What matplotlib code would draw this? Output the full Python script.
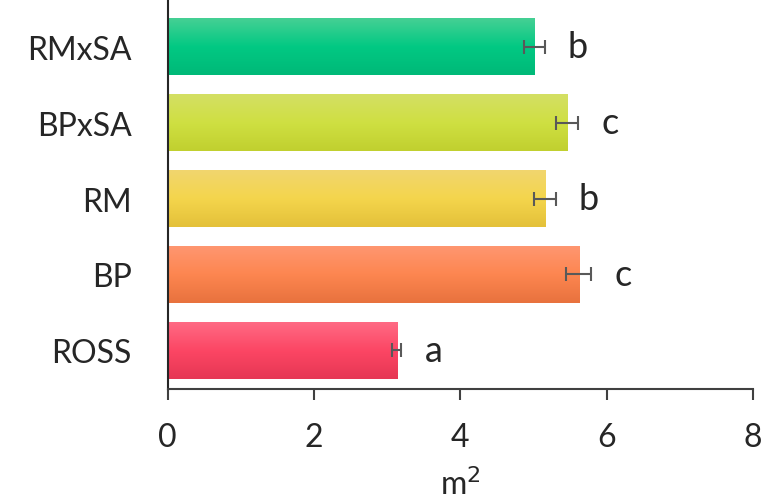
import matplotlib
matplotlib.use('Agg')
import matplotlib.pyplot as plt
from matplotlib.colors import LinearSegmentedColormap
import numpy as np

plt.rcParams['font.family'] = ['Lato', 'DejaVu Sans']

# area per group (m2), standard error and significance letters
groups = ['ROSS', 'BP', 'RM', 'BPxSA', 'RMxSA']
means = [3.13, 5.62, 5.16, 5.46, 5.01]
errors = [0.06, 0.17, 0.15, 0.15, 0.145]
letters = ['a', 'c', 'b', 'c', 'b']

# top / middle / bottom shades of each bar's gradient
shades = [
    ['#ff6a84', '#fc4664', '#e63754'],
    ['#ff9670', '#fd8650', '#e8723e'],
    ['#f1d66e', '#f4d54c', '#e4c13a'],
    ['#d4df64', '#cfe042', '#c1d02f'],
    ['#45d094', '#02c983', '#00b978'],
]

fig = plt.figure(figsize=(7.79, 5.02), dpi=100)
ax = fig.add_axes((0.2153, 0.223, 0.7514, 0.777))

y = np.arange(len(groups))
height = 0.75
bars = ax.barh(y, means, height=height, color='none', edgecolor='none')

grad = np.linspace(1, 0, 64).reshape(-1, 1)
for bar, cols in zip(bars, shades):
    cmap = LinearSegmentedColormap.from_list('g', [cols[2], cols[1], cols[0]])
    x0, y0 = bar.get_x(), bar.get_y()
    w, h = bar.get_width(), bar.get_height()
    im = ax.imshow(grad, cmap=cmap, aspect='auto', origin='upper',
                   extent=(x0, x0 + w, y0, y0 + h), vmin=0, vmax=1, zorder=1)
    im.set_clip_path(bar)

ax.errorbar(means, y, xerr=errors, fmt='none', ecolor='#595959',
            elinewidth=1.5, capsize=5, capthick=1.5, zorder=3)

for yi, m, e, lab in zip(y, means, errors, letters):
    ax.text(m + e + 0.44, yi, lab, ha='center', va='center',
            fontsize=26, color='#262626')

ax.set_xlim(0, 8)
ax.set_ylim(-0.51, 4.63)
ax.set_xticks([0, 2, 4, 6, 8])
ax.set_yticks(y)
ax.set_yticklabels(groups)
ax.set_xlabel('m$^2$', fontsize=23, color='#262626', labelpad=11)

for side in ['top', 'right']:
    ax.spines[side].set_visible(False)
ax.spines['left'].set_color('#262626')
ax.spines['left'].set_linewidth(1.5)
ax.spines['bottom'].set_color('#404040')
ax.spines['bottom'].set_linewidth(1.5)
ax.tick_params(axis='x', length=8, width=1.5, color='#404040', direction='out',
               labelsize=23, labelcolor='#262626', pad=16)
ax.tick_params(axis='y', length=0, labelsize=23, labelcolor='#262626', pad=26)

fig.savefig('out.png', dpi=100)
